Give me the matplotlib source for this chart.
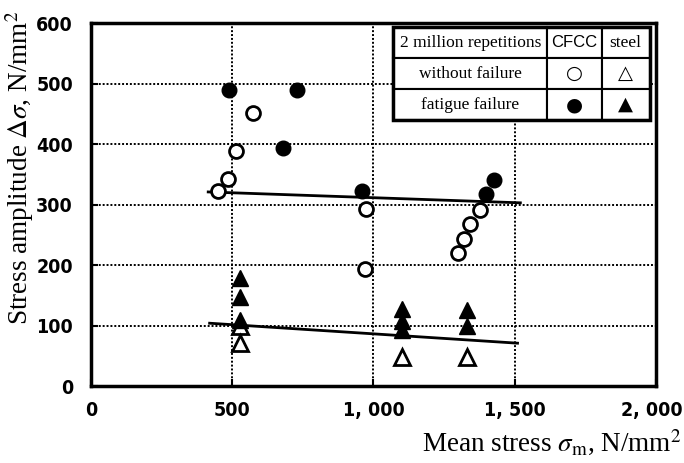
import matplotlib.pyplot as plt
from matplotlib.patches import Rectangle
from matplotlib.transforms import ScaledTranslation

# CFCC, 2 million repetitions
cfcc_ok_x = [450, 485, 515, 575, 975, 970, 1298, 1320, 1340, 1376]
cfcc_ok_y = [322, 343, 388, 452, 293, 193, 220, 243, 268, 291]
cfcc_fail_x = [490, 730, 680, 960, 1400, 1425]
cfcc_fail_y = [490, 490, 393, 322, 317, 340]

# steel
steel_ok_x = [527, 527, 1100, 1330]
steel_ok_y = [100, 71, 48, 48]
steel_fail_x = [527, 527, 527, 1100, 1100, 1100, 1330, 1330]
steel_fail_y = [179, 148, 110, 128, 108, 92, 126, 100]

# fitted lines
cfcc_fit_x = [415, 1520]
cfcc_fit_y = [321, 303]
steel_fit_x = [420, 1510]
steel_fit_y = [104, 71]

xticks = [0, 500, 1000, 1500, 2000]
xtick_labels = ["0", "500", "1, 000", "1, 500", "2, 000"]
yticks = [0, 100, 200, 300, 400, 500, 600]

plt.rcParams["mathtext.fontset"] = "stix"

fig = plt.figure(figsize=(6.84, 4.63), dpi=100)
ax = fig.add_axes([0.133, 0.166, 0.826, 0.784])

ax.set_xlim(0, 2000)
ax.set_ylim(0, 600)

# dotted grid
for v in xticks[1:-1]:
    ax.axvline(v, color="black", lw=1.4, ls=(0, (1, 1)), zorder=1)
for v in yticks[1:-1]:
    ax.axhline(v, color="black", lw=1.4, ls=(0, (1, 1)), zorder=1)

ax.plot(cfcc_fit_x, cfcc_fit_y, c="black", lw=2, zorder=2)
ax.plot(steel_fit_x, steel_fit_y, c="black", lw=2, zorder=2)

ax.plot(cfcc_ok_x, cfcc_ok_y, "o", ms=10, mfc="white", mec="black", mew=2, zorder=3)
ax.plot(cfcc_fail_x, cfcc_fail_y, "o", ms=10.5, mfc="black", mec="black", zorder=3)
ax.plot(steel_ok_x, steel_ok_y, "^", ms=11, mfc="white", mec="black", mew=2, zorder=3)
ax.plot(steel_fail_x, steel_fail_y, "^", ms=11.5, mfc="black", mec="black", zorder=3)

for s in ax.spines.values():
    s.set_linewidth(2.5)

tick_font = dict(family="DejaVu Sans", weight="bold", size=14, stretch="condensed")
ax.set_xticks(xticks)
ax.set_xticklabels(xtick_labels, fontdict=tick_font)
ax.set_yticks(yticks)
ax.set_yticklabels([str(v) for v in yticks], fontdict=tick_font)
ax.tick_params(direction="in", length=5, width=1.5)
ax.tick_params(axis="x", pad=11)
ax.tick_params(axis="y", pad=13)
# last x label sits at the figure edge, nudge it in a little
last = ax.get_xticklabels()[-1]
last.set_transform(last.get_transform() + ScaledTranslation(-3 / 72, 0, fig.dpi_scale_trans))

ax.set_xlabel(r"Mean stress $\sigma_{\rm m}$, N/mm$^2$", fontsize=19.5,
              family="Liberation Serif", loc="right")
ax.xaxis.set_label_coords(1.045, -0.115)
ax.set_ylabel(r"Stress amplitude $\Delta\sigma$, N/mm$^2$", fontsize=19.5,
              family="Liberation Serif")
ax.yaxis.set_label_coords(-0.097, 0.6)

# legend table
cells = [["2 million repetitions", "CFCC", "steel"],
         ["without failure", "\u25CB", "\u25B3"],
         ["fatigue failure", "\u25CF", "\u25B2"]]
tb = ax.table(cellText=cells, cellLoc="center", colWidths=[0.601, 0.211, 0.188],
              bbox=[0.535, 0.733, 0.454, 0.256], zorder=5)
tb.auto_set_font_size(False)
for (r, c), cell in tb.get_celld().items():
    cell.set_linewidth(1.5)
    cell.set_facecolor("white")
    txt = cell.get_text()
    if r > 0 and c > 0:
        txt.set_fontsize(14)
        txt.set_fontweight("bold")
        txt.set_fontfamily("DejaVu Sans")
    elif r == 0 and c == 1:
        txt.set_fontsize(12)
        txt.set_fontfamily("Liberation Sans")
    else:
        txt.set_fontsize(12.5)
        txt.set_fontfamily("Liberation Serif")
ax.add_patch(Rectangle((0.535, 0.733), 0.454, 0.256, transform=ax.transAxes,
                       fill=False, lw=2.5, ec="black", zorder=6))

fig.savefig("out.png", dpi=100)
